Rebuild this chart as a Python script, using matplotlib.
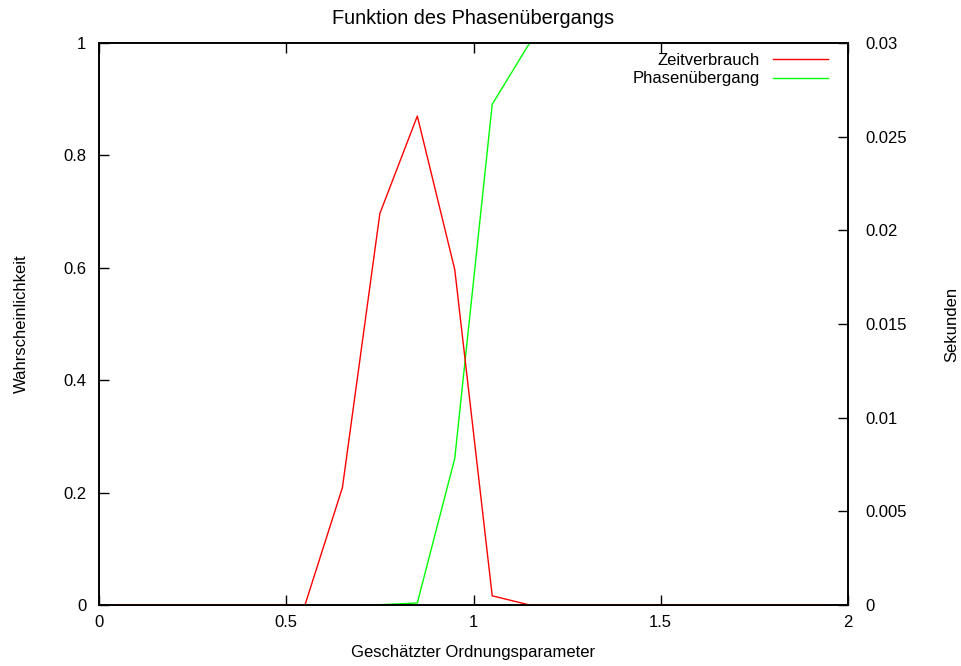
import matplotlib
matplotlib.use("Agg")
import matplotlib.pyplot as plt

plt.rcParams['font.family'] = ['Liberation Sans', 'DejaVu Sans']
plt.rcParams['font.size'] = 12

# geschätzter Ordnungsparameter (Stützstellen)
x_werte = [0.05, 0.15, 0.25, 0.35, 0.45, 0.55, 0.65, 0.75, 0.85, 0.95,
           1.05, 1.15, 1.25, 1.35, 1.45, 1.55, 1.65, 1.75, 1.85, 1.95]
# Zeitverbrauch in Sekunden (rechte Achse)
zeitverbrauch = [0, 0, 0, 0, 0, 0, 0.00627, 0.0209, 0.0261, 0.0179,
                 0.00049, 0, 0, 0, 0, 0, 0, 0, 0, 0]
# Wahrscheinlichkeit des Phasenübergangs (linke Achse)
phasenuebergang = [0, 0, 0, 0, 0, 0, 0, 0.0005, 0.0036, 0.261,
                   0.891, 1, 1, 1, 1, 1, 1, 1, 1, 1]

fig = plt.figure(figsize=(9.61, 6.66), dpi=100)
ax = fig.add_axes([99 / 961, 1 - 605 / 666, 749 / 961, 562 / 666])
ax2 = ax.twinx()

l1, = ax2.plot(x_werte, zeitverbrauch, color='#ff0000', lw=1, label='Zeitverbrauch')
l2, = ax.plot(x_werte, phasenuebergang, color='#00ff00', lw=1, label='Phasenübergang')

ax.set_xlim(0, 2)
ax.set_ylim(0, 1)
ax2.set_ylim(0, 0.03)
ax.set_xticks([0, 0.5, 1, 1.5, 2])
ax.set_xticklabels(['0', '0.5', '1', '1.5', '2'])
ax.set_yticks([0, 0.2, 0.4, 0.6, 0.8, 1])
ax.set_yticklabels(['0', '0.2', '0.4', '0.6', '0.8', '1'])
ax2.set_yticks([0, 0.005, 0.01, 0.015, 0.02, 0.025, 0.03])
ax2.set_yticklabels(['0', '0.005', '0.01', '0.015', '0.02', '0.025', '0.03'])

ax.tick_params(axis='x', direction='in', top=True, length=7, width=1, pad=7)
ax.tick_params(axis='y', direction='in', right=False, length=7, width=1, pad=9)
ax2.tick_params(axis='y', direction='in', length=7, width=1, pad=12.5)

for a in (ax, ax2):
    for s in a.spines.values():
        s.set_linewidth(1.2)
        s.set_zorder(5)

ax.set_xlabel('Geschätzter Ordnungsparameter', labelpad=11)
ax.set_ylabel('Wahrscheinlichkeit', labelpad=25)
ax2.set_ylabel('Sekunden', labelpad=27)
ax.set_title('Funktion des Phasenübergangs', pad=14)

ax2.legend([l1, l2], ['Zeitverbrauch', 'Phasenübergang'], loc='upper right',
           frameon=False, markerfirst=False, handlelength=3.3,
           borderaxespad=0.1, labelspacing=0.2, handletextpad=0.8,
           bbox_to_anchor=(0.985, 0.997))

fig.savefig('out.png', dpi=100)
